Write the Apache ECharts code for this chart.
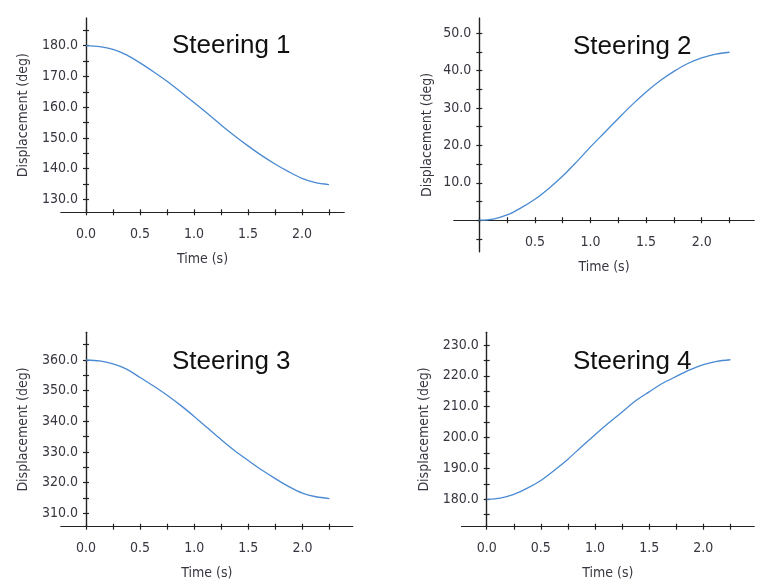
<!DOCTYPE html>
<html>
<head>
<meta charset="utf-8">
<script src="https://cdn.jsdelivr.net/npm/echarts@6/dist/echarts.min.js"></script>
<style>
html, body { margin: 0; padding: 0; background: #fff; }
#main { width: 765px; height: 585px; }
</style>
</head>
<body>
<div id="main"></div>
<script>
// sample times (s)
const time = [0, 0.125, 0.25, 0.375, 0.5, 0.625, 0.75, 0.875, 1.0, 1.125, 1.25, 1.375, 1.5, 1.625, 1.75, 1.875, 2.0, 2.125, 2.25];

// displacement (deg)
const steering1 = [180, 179.7, 178.8, 177.0, 174.4, 171.5, 168.4, 165.0, 161.5, 157.9, 154.2, 150.7, 147.4, 144.3, 141.5, 139.0, 136.8, 135.4, 134.8];
const steering2 = [0, 0.3, 1.4, 3.3, 5.6, 8.5, 11.8, 15.6, 19.6, 23.4, 27.2, 30.9, 34.3, 37.3, 39.8, 41.9, 43.4, 44.4, 44.9];
const steering3 = [360, 359.7, 358.7, 357.0, 354.3, 351.5, 348.5, 345.2, 341.6, 337.8, 334.0, 330.4, 327.2, 324.1, 321.3, 318.7, 316.6, 315.4, 314.8];
const steering4 = [180, 180.4, 181.6, 183.6, 186.1, 189.4, 193.0, 197.0, 200.9, 204.7, 208.3, 211.9, 214.8, 217.6, 219.8, 221.9, 223.6, 224.7, 225.2];

const titles = ['Steering 1', 'Steering 2', 'Steering 3', 'Steering 4'];

// ticks and labels
const timeTicks = [0, 0.25, 0.5, 0.75, 1.0, 1.25, 1.5, 1.75, 2.0, 2.25];
const timeLabels = [0, 0.5, 1.0, 1.5, 2.0];
const timeLabelsNoZero = [0.5, 1.0, 1.5, 2.0];
const yTicks1 = [130, 135, 140, 145, 150, 155, 160, 165, 170, 175, 180, 185];
const yLabels1 = [130, 140, 150, 160, 170, 180];
const yTicks2 = [-5, 0, 5, 10, 15, 20, 25, 30, 35, 40, 45, 50];
const yLabels2 = [10, 20, 30, 40, 50];
const yTicks3 = [310, 315, 320, 325, 330, 335, 340, 345, 350, 355, 360, 365];
const yLabels3 = [310, 320, 330, 340, 350, 360];
const yTicks4 = [175, 180, 185, 190, 195, 200, 205, 210, 215, 220, 225, 230];
const yLabels4 = [180, 190, 200, 210, 220, 230];

// layout of the four panels (axisX / axisY: where the axes cross, in px)
const panels = [
  { data: steering1, yTicks: yTicks1, yLabels: yLabels1, xLabels: timeLabels,
    left: 61, top: 18, width: 283, height: 194.3, xMin: -0.2315, xMax: 2.389, yMin: 125.77, yMax: 189.02,
    axisX: 86, axisY: 212.3, yNameGap: 56, titleX: 172, titleY: 33 },
  { data: steering2, yTicks: yTicks2, yLabels: yLabels2, xLabels: timeLabelsNoZero,
    left: 454, top: 18, width: 300, height: 233.7, xMin: -0.2275, xMax: 2.470, yMin: -8.42, yMax: 54.06,
    axisX: 479.3, axisY: 220.2, yNameGap: 45, titleX: 573, titleY: 34 },
  { data: steering3, yTicks: yTicks3, yLabels: yLabels3, xLabels: timeLabels,
    left: 61, top: 332.3, width: 291.7, height: 194.4, xMin: -0.231, xMax: 2.465, yMin: 305.63, yMax: 369.03,
    axisX: 86, axisY: 526.7, yNameGap: 56, titleX: 172, titleY: 349 },
  { data: steering4, yTicks: yTicks4, yLabels: yLabels4, xLabels: timeLabels,
    left: 461.7, top: 332.3, width: 292.3, height: 194.4, xMin: -0.231, xMax: 2.468, yMin: 171.12, yMax: 234.1,
    axisX: 486.7, axisY: 526.7, yNameGap: 55, titleX: 573, titleY: 349 }
];

const axisColor = '#222';
const textColor = '#363640';
const axisFont = '"DejaVu Sans Condensed", "DejaVu Sans", sans-serif';
const fmt = v => Number(v).toFixed(1);

let option = {
  animation: false,
  backgroundColor: '#fff',
  title: [],
  grid: [],
  xAxis: [],
  yAxis: [],
  series: []
};

panels.forEach((p, i) => {
  option.title.push({
    text: titles[i], left: p.titleX, top: p.titleY, padding: 0,
    textStyle: { fontFamily: '"Liberation Sans", Arial, sans-serif', fontSize: 26, fontWeight: 'normal', color: '#111' }
  });
  option.grid.push({ left: p.left, top: p.top, width: p.width, height: p.height });

  // axes are moved to the crossing point with offset; a second copy draws the inner half of each tick
  let xBase = {
    gridIndex: i, type: 'value', min: p.xMin, max: p.xMax, position: 'bottom',
    offset: p.axisY - (p.top + p.height),
    splitLine: { show: false },
    axisLine: { onZero: false, lineStyle: { color: axisColor, width: 1.2 } }
  };
  option.xAxis.push(Object.assign({}, xBase, {
    name: 'Time (s)', nameLocation: 'middle', nameGap: 40,
    nameTextStyle: { color: textColor, fontFamily: axisFont, fontSize: 14 },
    axisTick: { customValues: timeTicks, length: 3, lineStyle: { color: axisColor, width: 1.2 } },
    axisLabel: { customValues: p.xLabels, formatter: fmt, margin: 15, color: textColor, fontFamily: axisFont, fontSize: 14 }
  }));
  option.xAxis.push(Object.assign({}, xBase, {
    axisTick: { customValues: timeTicks, length: 3, inside: true, lineStyle: { color: axisColor, width: 1.2 } },
    axisLabel: { show: false }
  }));

  let yBase = {
    gridIndex: i, type: 'value', min: p.yMin, max: p.yMax, position: 'left',
    offset: p.left - p.axisX,
    splitLine: { show: false },
    axisLine: { onZero: false, lineStyle: { color: axisColor, width: 1.2 } }
  };
  option.yAxis.push(Object.assign({}, yBase, {
    name: 'Displacement (deg)', nameLocation: 'middle', nameGap: p.yNameGap,
    nameTextStyle: { color: textColor, fontFamily: axisFont, fontSize: 14 },
    axisTick: { customValues: p.yTicks, length: 3, lineStyle: { color: axisColor, width: 1.2 } },
    axisLabel: { customValues: p.yLabels, formatter: fmt, margin: 8, color: textColor, fontFamily: axisFont, fontSize: 14 }
  }));
  option.yAxis.push(Object.assign({}, yBase, {
    axisTick: { customValues: p.yTicks, length: 3, inside: true, lineStyle: { color: axisColor, width: 1.2 } },
    axisLabel: { show: false }
  }));

  option.series.push({
    type: 'line', xAxisIndex: 2 * i, yAxisIndex: 2 * i,
    data: time.map((t, k) => [t, p.data[k]]),
    showSymbol: false, smooth: 0.3,
    lineStyle: { color: '#4a8ad2', width: 1.3 }
  });
});

let myChart = echarts.init(document.getElementById('main'));
myChart.setOption(option);
</script>
</body>
</html>
